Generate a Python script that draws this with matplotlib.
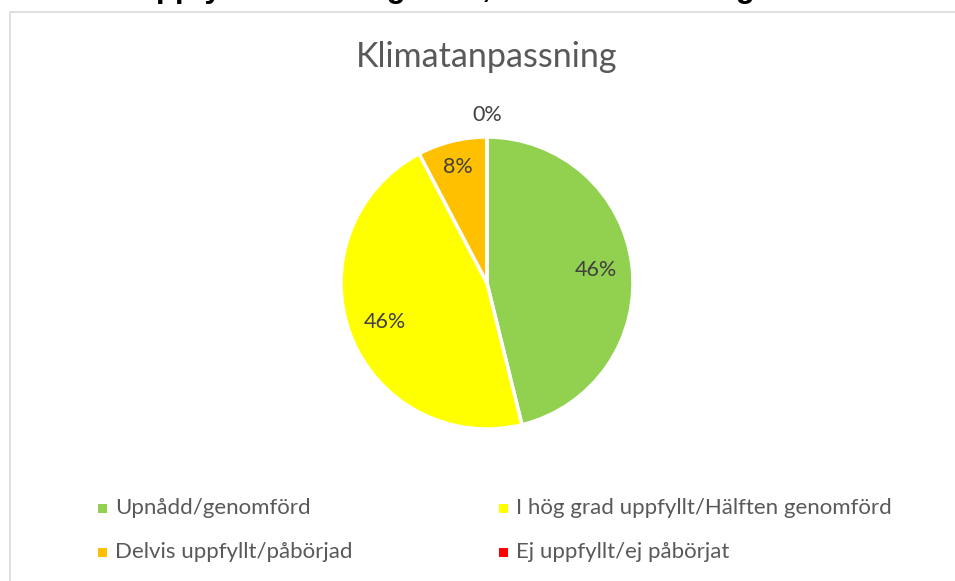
import numpy as np
import matplotlib
matplotlib.use("Agg")
import matplotlib.pyplot as plt
from matplotlib.patches import Rectangle

categories = ["Upnådd/genomförd", "I hög grad uppfyllt/Hälften genomförd",
              "Delvis uppfyllt/påbörjad", "Ej uppfyllt/ej påbörjat"]
values = [6, 6, 1, 0]
labels_pct = ["46%", "46%", "8%", "0%"]
colors = ["#92D050", "#FFFF00", "#FFC000", "#FF0000"]
title = "Klimatanpassning"
heading = "Grad av uppfyllelse för åtgärder, sammanställning"

plt.rcParams['font.family'] = ['Lato', 'DejaVu Sans']
W, H = 955, 581
fig = plt.figure(figsize=(W / 100, H / 100), dpi=100)

# chart border
fig.patches.append(Rectangle((10 / W, -0.01), 1.0, (H - 12) / H + 0.01,
                             transform=fig.transFigure, fill=False,
                             edgecolor="#D9D9D9", linewidth=1.2))
# clipped heading above the chart
fig.text(12 / W, 1 + 3 / H, heading, fontsize=22.5, fontweight="bold",
         color="black", ha="left", va="baseline", family="Liberation Sans")

cx, cy, r = 487, 283, 146
ax = fig.add_axes([(cx - r) / W, (H - cy - r) / H, 2 * r / W, 2 * r / H])
wedges, _ = ax.pie(values, colors=colors, startangle=90, counterclock=False,
                   radius=1, wedgeprops=dict(edgecolor="white", linewidth=2.5))
ax.set_xlim(-1, 1)
ax.set_ylim(-1, 1)
ax.axis("off")

dists = [0.75, 0.75, 0.82, 1.15]
for w, lab, d in zip(wedges, labels_pct, dists):
    ang = np.deg2rad((w.theta1 + w.theta2) / 2)
    ax.text(d * np.cos(ang), d * np.sin(ang), lab, ha="center", va="center",
            fontsize=15.5, color="#404040", clip_on=False)

fig.text(cx / W, 1 - 57 / H, title, ha="center", va="center",
         fontsize=24.5, color="#595959")

# legend
pos = [(102, 508), (503, 508), (102, 552), (503, 552)]
for (x, y), c, t in zip(pos, colors, categories):
    fig.patches.append(Rectangle(((x - 4.5) / W, (H - y - 4.5) / H), 9 / W, 9 / H,
                                 transform=fig.transFigure, facecolor=c,
                                 edgecolor="none"))
    fig.text((x + 13) / W, 1 - y / H, t, ha="left", va="center",
             fontsize=16, color="#595959")

fig.savefig("out.png", dpi=100)
